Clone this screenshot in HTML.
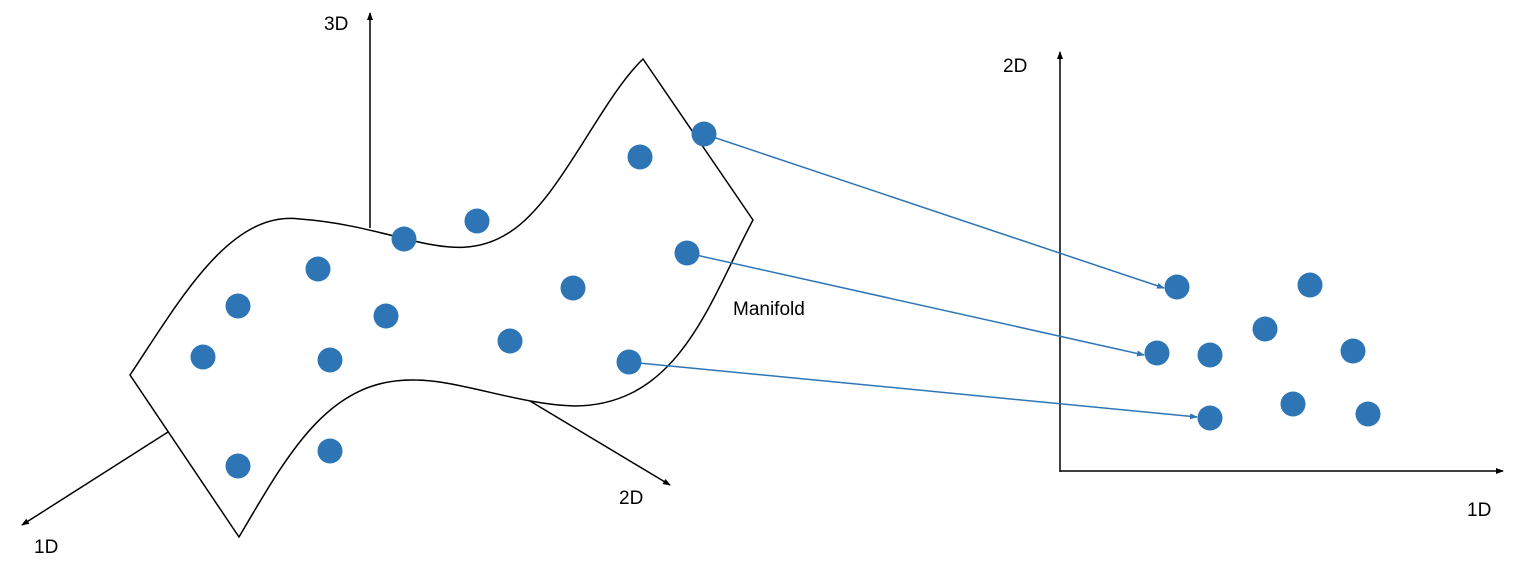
<!DOCTYPE html>
<html><head><meta charset="utf-8"><style>
html,body{margin:0;padding:0;background:#fff;}
svg{display:block;}
text{font-family:"Liberation Sans",sans-serif;font-size:19px;fill:#000;}
</style></head><body>
<svg width="1529" height="573" viewBox="0 0 1529 573" xmlns="http://www.w3.org/2000/svg">
<defs>
<marker id="ak" markerWidth="8" markerHeight="8" refX="7" refY="4" orient="auto" markerUnits="userSpaceOnUse"><path d="M0,1 L8,4 L0,7 Z" fill="#000"/></marker>
<marker id="ab" markerWidth="8" markerHeight="8" refX="7" refY="4" orient="auto" markerUnits="userSpaceOnUse"><path d="M0,1 L8,4 L0,7 Z" fill="#2e75b6"/></marker>
</defs>
<g stroke="#000" stroke-width="1.5" fill="none">
<line x1="370" y1="228" x2="370" y2="13" marker-end="url(#ak)"/>
<line x1="168" y1="432" x2="22" y2="525" marker-end="url(#ak)"/>
<line x1="530" y1="401" x2="670" y2="485" marker-end="url(#ak)"/>
<path d="M130,375 C180,300 230,210 300,219 C340,222 370,230 410,240 C450,250 480,252 510,232 C560,200 600,100 643,59 L753,220 C710,300 680,405 575,406 C520,405 460,380 415,380 C330,378 290,450 239,537 Z"/>
<line x1="1060" y1="472" x2="1060" y2="52" marker-end="url(#ak)"/>
<line x1="1060" y1="471" x2="1503" y2="471" marker-end="url(#ak)"/>
</g>
<g stroke="#2e75b6" stroke-width="1.5">
<line x1="704" y1="134" x2="1164" y2="288" marker-end="url(#ab)"/>
<line x1="687" y1="253" x2="1144" y2="355" marker-end="url(#ab)"/>
<line x1="629" y1="362" x2="1197" y2="417" marker-end="url(#ab)"/>
</g>
<g fill="#2e75b6">
<circle cx="238" cy="306" r="12.5"/><circle cx="318" cy="269" r="12.5"/><circle cx="404" cy="239" r="12.5"/>
<circle cx="477" cy="221" r="12.5"/><circle cx="640" cy="157" r="12.5"/><circle cx="704" cy="134" r="12.5"/>
<circle cx="203" cy="357" r="12.5"/><circle cx="330" cy="360" r="12.5"/><circle cx="386" cy="316" r="12.5"/>
<circle cx="510" cy="341" r="12.5"/><circle cx="573" cy="288" r="12.5"/><circle cx="687" cy="253" r="12.5"/>
<circle cx="629" cy="362" r="12.5"/><circle cx="238" cy="466" r="12.5"/><circle cx="330" cy="451" r="12.5"/>
<circle cx="1177" cy="287" r="12.5"/><circle cx="1310" cy="285" r="12.5"/><circle cx="1265" cy="329" r="12.5"/>
<circle cx="1157" cy="353" r="12.5"/><circle cx="1210" cy="355" r="12.5"/><circle cx="1353" cy="351" r="12.5"/>
<circle cx="1210" cy="418" r="12.5"/><circle cx="1293" cy="404" r="12.5"/><circle cx="1368" cy="414" r="12.5"/>
</g>
<text x="324" y="30">3D</text>
<text x="34" y="553">1D</text>
<text x="619" y="504">2D</text>
<text x="733" y="315">Manifold</text>
<text x="1003" y="72">2D</text>
<text x="1467" y="516">1D</text>
</svg>
</body></html>
